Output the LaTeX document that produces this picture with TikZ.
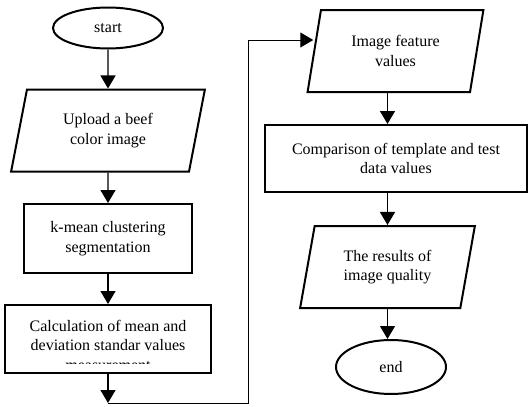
\documentclass[tikz,border=0pt]{standalone}
\usepackage{fontspec}
\setmainfont{Liberation Serif}
\usetikzlibrary{shapes.geometric,arrows.meta,positioning,calc}
\tikzset{
  fcterm/.style={ellipse,draw,line width=2pt,minimum width=110pt,inner sep=0pt},
  fcio/.style={trapezium,trapezium left angle=75.6,trapezium right angle=104.4,
    trapezium stretches=true,draw,line width=2pt,minimum height=82pt,inner sep=0pt,align=center},
  fcproc/.style={rectangle,draw,line width=2pt,inner sep=0pt,align=center},
  fctext/.style={inner sep=0pt,align=center},
  arcflow/.style={-{Triangle[width=15pt,length=13pt]},line width=1.2pt},
  arcloop/.style={-{Triangle[width=15pt,length=13pt]},line width=1pt}
}
\begin{document}
\begin{tikzpicture}[x=1pt,y=-1pt,font=\fontsize{16pt}{19.5pt}\selectfont]
  \useasboundingbox (0,0) rectangle (528,407);
  % left column
  \node[fcterm,minimum height=41pt] (start) at (108,28) {start};
  \node[fcio,minimum width=194pt] (upload) at (108,130.5) {Upload a beef\\color image};
  \node[fcproc,minimum width=168pt,minimum height=69pt] (kmean) at (108,238.5) {k-mean clustering\\segmentation};
  \node[fcproc,minimum width=206pt,minimum height=68pt] (calc) at (108,339) {};
  \begin{scope}
    \clip (calc.north west) rectangle ([yshift=11pt]calc.south east);
    \node[fctext] (calctxt) at (108,345) {Calculation of mean and\\deviation standar values\\measurement};
  \end{scope}
  % right column
  \node[fcio,minimum width=176pt] (feat) at (395.5,51) {Image feature\\values};
  \node[fcproc,minimum width=262pt,minimum height=67pt] (comp) at (396,158.5) {Comparison of template and test\\data values};
  \node[fcio,minimum width=175pt] (res) at (387.5,267) {The results of\\image quality};
  \node[fcterm,minimum height=54pt] (fin) at (391,367) {end};
  \coordinate (c1) at (108,403);
  \coordinate (c2) at (248,40);
  \draw[arcflow] (start) -- (upload);
  \draw[arcflow] (upload) -- (kmean);
  \draw[arcflow] (kmean) -- (calc);
  \draw[arcflow] (calc) -- (c1);
  \draw[arcloop] (c1) -| (c2) -- (c2 -| feat.west);
  \draw[arcflow] (feat.south -| res) -- (comp.north -| res);
  \draw[arcflow] (comp.south -| res) -- (res);
  \draw[arcflow] (res) -- (res |- fin.north);
\end{tikzpicture}
\end{document}
